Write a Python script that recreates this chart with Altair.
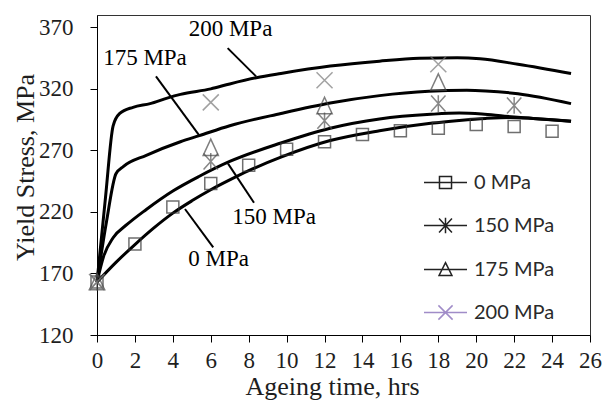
import altair as alt
import pandas as pd

# ---------------- data ----------------
series_names = ["0 MPa", "150 MPa", "175 MPa", "200 MPa"]

# model curves
curve_t_0 = [0, 1, 2, 3, 4, 5, 6, 7, 8, 9.7, 12.3, 14.9, 17.6, 19.1, 20.5, 21.8, 23, 25]
curve_y_0 = [163, 179, 193.5, 207, 219, 229, 238, 246, 253.5, 264.5, 278, 286, 292, 294.3, 296, 296.8, 296, 293.7]
curve_t_150 = [0, 0.35, 0.85, 1.6, 2.6, 4.0, 5.4, 7, 9.7, 12.3, 14.9, 17.6, 19.1, 20.3, 21.5, 23, 25]
curve_y_150 = [163, 184, 199, 210, 222, 237, 249, 261, 276, 288, 295.5, 299.3, 300.3, 299.5, 297.8, 296, 293.7]
curve_t_175 = [0, 0.5, 1.0, 1.4, 2.6, 4.4, 5.4, 7, 9.7, 12.3, 14.9, 17.5, 19.5, 20.5, 22.2, 25]
curve_y_175 = [163, 212, 251, 257, 266, 277, 282, 290, 300, 308.5, 314.5, 318, 318.8, 318.3, 316, 308]
curve_t_200 = [0, 0.45, 0.85, 1.2, 1.9, 2.8, 3.7, 4.4, 6, 7, 8.4, 9.7, 12.3, 14.9, 17, 19, 20.2, 22.2, 25]
curve_y_200 = [163, 232, 290, 300, 305, 308, 312.5, 315.5, 320, 324, 329, 332.5, 338.5, 342.5, 344.8, 345.3, 344.5, 340, 332.5]

# measured points
obs_t_0 = [0, 2, 4, 6, 8, 10, 12, 14, 16, 18, 20, 22, 24]
obs_y_0 = [163, 194, 224, 243, 258, 271, 277, 283, 286, 288, 291, 289.5, 285.5]
obs_t_150 = [0, 6, 12, 18, 22]
obs_y_150 = [163, 261, 294, 308, 306.5]
obs_t_175 = [0, 6, 12, 18]
obs_y_175 = [163, 272, 306, 325]
obs_t_200 = [0, 6, 12, 18]
obs_y_200 = [163, 309, 327, 340]

# annotations
ann_text = ["200 MPa", "175 MPa", "150 MPa", "0 MPa"]
ann_x = [7.04, 2.53, 9.34, 6.41]
ann_y = [362.7, 339.6, 210.1, 176.2]
lead_x1 = [6.89, 3.11, 6.91, 4.64]
lead_y1 = [353.1, 330.1, 259.2, 222.4]
lead_x2 = [8.39, 5.40, 8.28, 6.13]
lead_y2 = [330.1, 282.0, 227.5, 191.2]

x_ticks = [float(v) for v in range(0, 27, 2)]
y_ticks = [120, 170, 220, 270, 320, 370]

# ---------------- tables ----------------
curves = pd.concat([
    pd.DataFrame({"series": s, "t": t, "y": y, "o": range(len(t))})
    for s, t, y in [
        ("0 MPa", curve_t_0, curve_y_0),
        ("150 MPa", curve_t_150, curve_y_150),
        ("175 MPa", curve_t_175, curve_y_175),
        ("200 MPa", curve_t_200, curve_y_200),
    ]
])
obs = pd.concat([
    pd.DataFrame({"series": s, "t": t, "y": y})
    for s, t, y in [
        ("0 MPa", obs_t_0, obs_y_0),
        ("150 MPa", obs_t_150, obs_y_150),
        ("175 MPa", obs_t_175, obs_y_175),
        ("200 MPa", obs_t_200, obs_y_200),
    ]
])
ann = pd.DataFrame({"label": ann_text, "t": ann_x, "y": ann_y})
leads = pd.DataFrame({"t": lead_x1, "y": lead_y1, "t2": lead_x2, "y2": lead_y2})

serif = "Liberation Serif"
txt = "#1e1e1e"

xs = alt.Scale(domain=[0, 26], nice=False)
ys = alt.Scale(domain=[120, 380], nice=False)

x_axis = alt.Axis(
    values=x_ticks, title="Ageing time, hrs", grid=False, tickSize=7,
    labelFont=serif, labelFontSize=23, labelColor=txt, labelPadding=25,
    labelBaseline="alphabetic", labelFlush=False, labelOverlap=False,
    labelSeparation=0, format="d",
    titleFont=serif, titleFontSize=26, titleFontWeight="normal", titleColor=txt,
    titleX=235, titleY=59, titleBaseline="alphabetic", titleAlign="center",
    domainColor="black", tickColor="black")
y_axis = alt.Axis(
    values=y_ticks, title="Yield Stress, MPa", grid=False, tickSize=7,
    labelFont=serif, labelFontSize=23, labelColor=txt, labelPadding=17,
    labelOverlap=False,
    titleFont=serif, titleFontSize=26, titleFontWeight="normal", titleColor=txt,
    titleAngle=-90, titleX=-64, titleY=152, titleBaseline="alphabetic",
    titleAlign="center", domainColor="black", tickColor="black")

x_enc = alt.X("t:Q", scale=xs, axis=x_axis)
y_enc = alt.Y("y:Q", scale=ys, axis=y_axis)

plot_paths = [
    "M-0.75,-0.75H0.75V0.75H-0.75Z",
    "M-0.9,-1L0.9,1M0.9,-1L-0.9,1M0,-1.05V1.05",
    "M0,-1.1L0.95,0.95L-0.95,0.95Z",
    "M-1,-1L1,1M1,-1L-1,1",
]
legend_paths = [
    "M-1,0H1M-0.28,-0.28H0.28V0.28H-0.28Z",
    "M-1,0H1M-0.3,-0.33L0.3,0.33M0.3,-0.33L-0.3,0.33M0,-0.36V0.36",
    "M-1,0H1M0,-0.32L0.3,0.28L-0.3,0.28Z",
    "M-1,0H1M-0.33,-0.33L0.33,0.33M0.33,-0.33L-0.33,0.33",
]

lines = alt.Chart(curves).mark_line(color="black", strokeWidth=3, interpolate="monotone").encode(
    x=x_enc, y=y_enc, detail="series:N", order="o:Q")

points = alt.Chart(obs).mark_point(filled=False, size=256, strokeWidth=1.5).encode(
    x=x_enc, y=y_enc,
    shape=alt.Shape("series:N", scale=alt.Scale(domain=series_names, range=plot_paths), legend=None),
    color=alt.Color("series:N", scale=alt.Scale(domain=series_names,
                    range=["#333333", "#555555", "#4a4a4a", "#7a7a7a"]), legend=None))

leg = alt.Legend(title=None, orient="none", legendX=326, legendY=145,
                 symbolSize=1849, symbolStrokeWidth=1.5, symbolOpacity=1,
                 labelFont="Lato", labelFontSize=20, labelColor="#2a2a2a",
                 labelOffset=6, rowPadding=10, padding=0)

legend_layer = alt.Chart(obs).mark_point(filled=False, size=256, strokeWidth=1.5, opacity=0).encode(
    x=x_enc, y=y_enc,
    shape=alt.Shape("series:N", scale=alt.Scale(domain=series_names, range=legend_paths),
                    legend=leg),
    color=alt.Color("series:N", scale=alt.Scale(domain=series_names,
                    range=["#222222", "#222222", "#222222", "#a08cc8"]),
                    legend=leg))

rules = alt.Chart(leads).mark_rule(color="black", strokeWidth=2).encode(
    x=x_enc, y=y_enc, x2="t2:Q", y2="y2:Q")

texts = alt.Chart(ann).mark_text(font=serif, fontSize=23, align="center",
                                 baseline="alphabetic", color="black").encode(
    x=x_enc, y=y_enc, text="label:N")

chart = alt.layer(lines, points, rules, texts, legend_layer).resolve_scale(
    shape="independent", color="independent"
).properties(
    width=493, height=320,
    autosize=alt.AutoSizeParams(type="none"),
    padding={"left": 97, "top": 15, "right": 13, "bottom": 66},
    background="white",
).configure_view(
    stroke="#333333", strokeWidth=1
).configure_axis(
    labelOverlap=False
).configure_axisX(
    labelOverlap=False, labelSeparation=0
)

chart.save("out.html", embed_options={"renderer": "svg", "actions": False})
